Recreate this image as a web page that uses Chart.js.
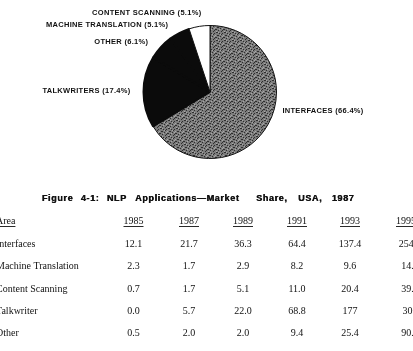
<!DOCTYPE html>
<html>
<head>
<meta charset="utf-8">
<script src="https://cdn.jsdelivr.net/npm/chart.js@4"></script>
<style>
    html, body { margin: 0; padding: 0; background: #fff; }
    canvas { display: block; }
</style>
</head>
<body>
<canvas id="myChart" width="413" height="351"></canvas>
<script>
// pie data (1987 share)
const sliceLabels = ["INTERFACES", "TALKWRITERS", "OTHER", "MACHINE TRANSLATION", "CONTENT SCANNING"];
const sliceShares = [66.4, 17.4, 6.1, 5.1, 5.1];

// table data
const tableTitle = "Figure 4-1: NLP Applications\u2014Market Share, USA, 1987";
const tableYears = ["1985", "1987", "1989", "1991", "1993", "1995"];
const tableAreas = ["Interfaces", "Machine Translation", "Content Scanning", "Talkwriter", "Other"];
const rowInterfaces = ["12.1", "21.7", "36.3", "64.4", "137.4", "254.4"];
const rowMachine = ["2.3", "1.7", "2.9", "8.2", "9.6", "14.4"];
const rowContent = ["0.7", "1.7", "5.1", "11.0", "20.4", "39.1"];
const rowTalk = ["0.0", "5.7", "22.0", "68.8", "177", "306"];
const rowOther = ["0.5", "2.0", "2.0", "9.4", "25.4", "90.0"];
const tableRows = [rowInterfaces, rowMachine, rowContent, rowTalk, rowOther];

// layout bits
const labelNudge = [[4, -20], [-1, -1.4], [-3.7, 3.3], [-5.5, 3], [4, -2]];
const colX = [133.5, 189, 243, 297, 350, 406];
const titleWordX = [41.7, 80.7, 106.7, 135, 256, 298, 331.7];

function grayPattern() {
    let c = document.createElement("canvas");
    c.width = 8; c.height = 8;
    let g = c.getContext("2d");
    g.fillStyle = "#7c7c7c";
    g.fillRect(0, 0, 8, 8);
    g.fillStyle = "#2e2e2e";
    [[0, 0], [1, 0], [3, 1], [6, 1], [1, 3], [2, 3], [4, 4], [5, 2], [7, 5], [2, 6], [5, 7], [6, 6], [0, 5]].forEach(p => g.fillRect(p[0], p[1], 1, 1));
    g.fillStyle = "#a8a8a8";
    [[2, 0], [4, 2], [7, 3], [0, 7], [3, 5], [6, 4]].forEach(p => g.fillRect(p[0], p[1], 1, 1));
    return document.getElementById("myChart").getContext("2d").createPattern(c, "repeat");
}

const extras = {
    id: "extras",
    afterDraw(chart) {
        const ctx = chart.ctx;
        ctx.save();
        ctx.fillStyle = "#111";

        // slice labels
        ctx.font = "bold 7.5px 'Liberation Sans', Arial, sans-serif";
        ctx.letterSpacing = "0.3px";
        ctx.textBaseline = "middle";
        const arcs = chart.getDatasetMeta(0).data;
        arcs.forEach((a, i) => {
            const mid = (a.startAngle + a.endAngle) / 2;
            const r = a.outerRadius + 12;
            const x = a.x + Math.cos(mid) * r + labelNudge[i][0];
            const y = a.y + Math.sin(mid) * r + labelNudge[i][1];
            ctx.textAlign = Math.cos(mid) >= 0 ? "left" : "right";
            ctx.fillText(`${sliceLabels[i]} (${sliceShares[i].toFixed(1)}%)`, x, y);
        });

        // title, spread out like the typed original
        ctx.font = "bold 9px 'Liberation Sans', Arial, sans-serif";
        ctx.letterSpacing = "0.65px";
        ctx.textAlign = "left";
        tableTitle.split(" ").forEach((w, i) => {
            ctx.fillText(w, titleWordX[i], 198.3);
            ctx.fillText(w, titleWordX[i] + 0.45, 198.3);
        });
        ctx.letterSpacing = "0px";

        // table
        ctx.font = "10px 'Liberation Serif', 'Times New Roman', serif";
        ctx.textAlign = "left";
        const headY = 221;
        ctx.fillText("Area", -4, headY);
        let aw = ctx.measureText("Area").width;
        ctx.fillRect(-4, 226, aw, 0.9);
        ctx.textAlign = "center";
        tableYears.forEach((yr, j) => {
            ctx.fillText(yr, colX[j], headY);
            let w = ctx.measureText(yr).width;
            ctx.fillRect(colX[j] - w / 2, 226, w, 0.9);
        });
        tableRows.forEach((row, i) => {
            const y = 244.6 + i * 22.2;
            ctx.textAlign = "left";
            ctx.fillText(tableAreas[i], -4, y);
            ctx.textAlign = "center";
            row.forEach((v, j) => ctx.fillText(v, colX[j] + (j === 5 ? 4 : 0), y));
        });
        ctx.restore();
    }
};

const ctx = document.getElementById("myChart").getContext("2d");
const myChart = new Chart(ctx, {
    type: "pie",
    data: {
        labels: sliceLabels,
        datasets: [{
            data: sliceShares,
            backgroundColor: [grayPattern(), "#0b0b0b", "#0b0b0b", "#0b0b0b", "#ffffff"],
            borderColor: ["#111", "#0b0b0b", "#0b0b0b", "#0b0b0b", "#111"],
            borderWidth: [1, 2, 2, 2, 1],
            hoverOffset: 0
        }]
    },
    options: {
        responsive: false,
        animation: false,
        events: [],
        layout: { padding: { top: 24.5, bottom: 191.5, left: 7, right: 0 } },
        plugins: {
            legend: { display: false },
            tooltip: { enabled: false }
        }
    },
    plugins: [extras]
});
</script>
</body>
</html>
